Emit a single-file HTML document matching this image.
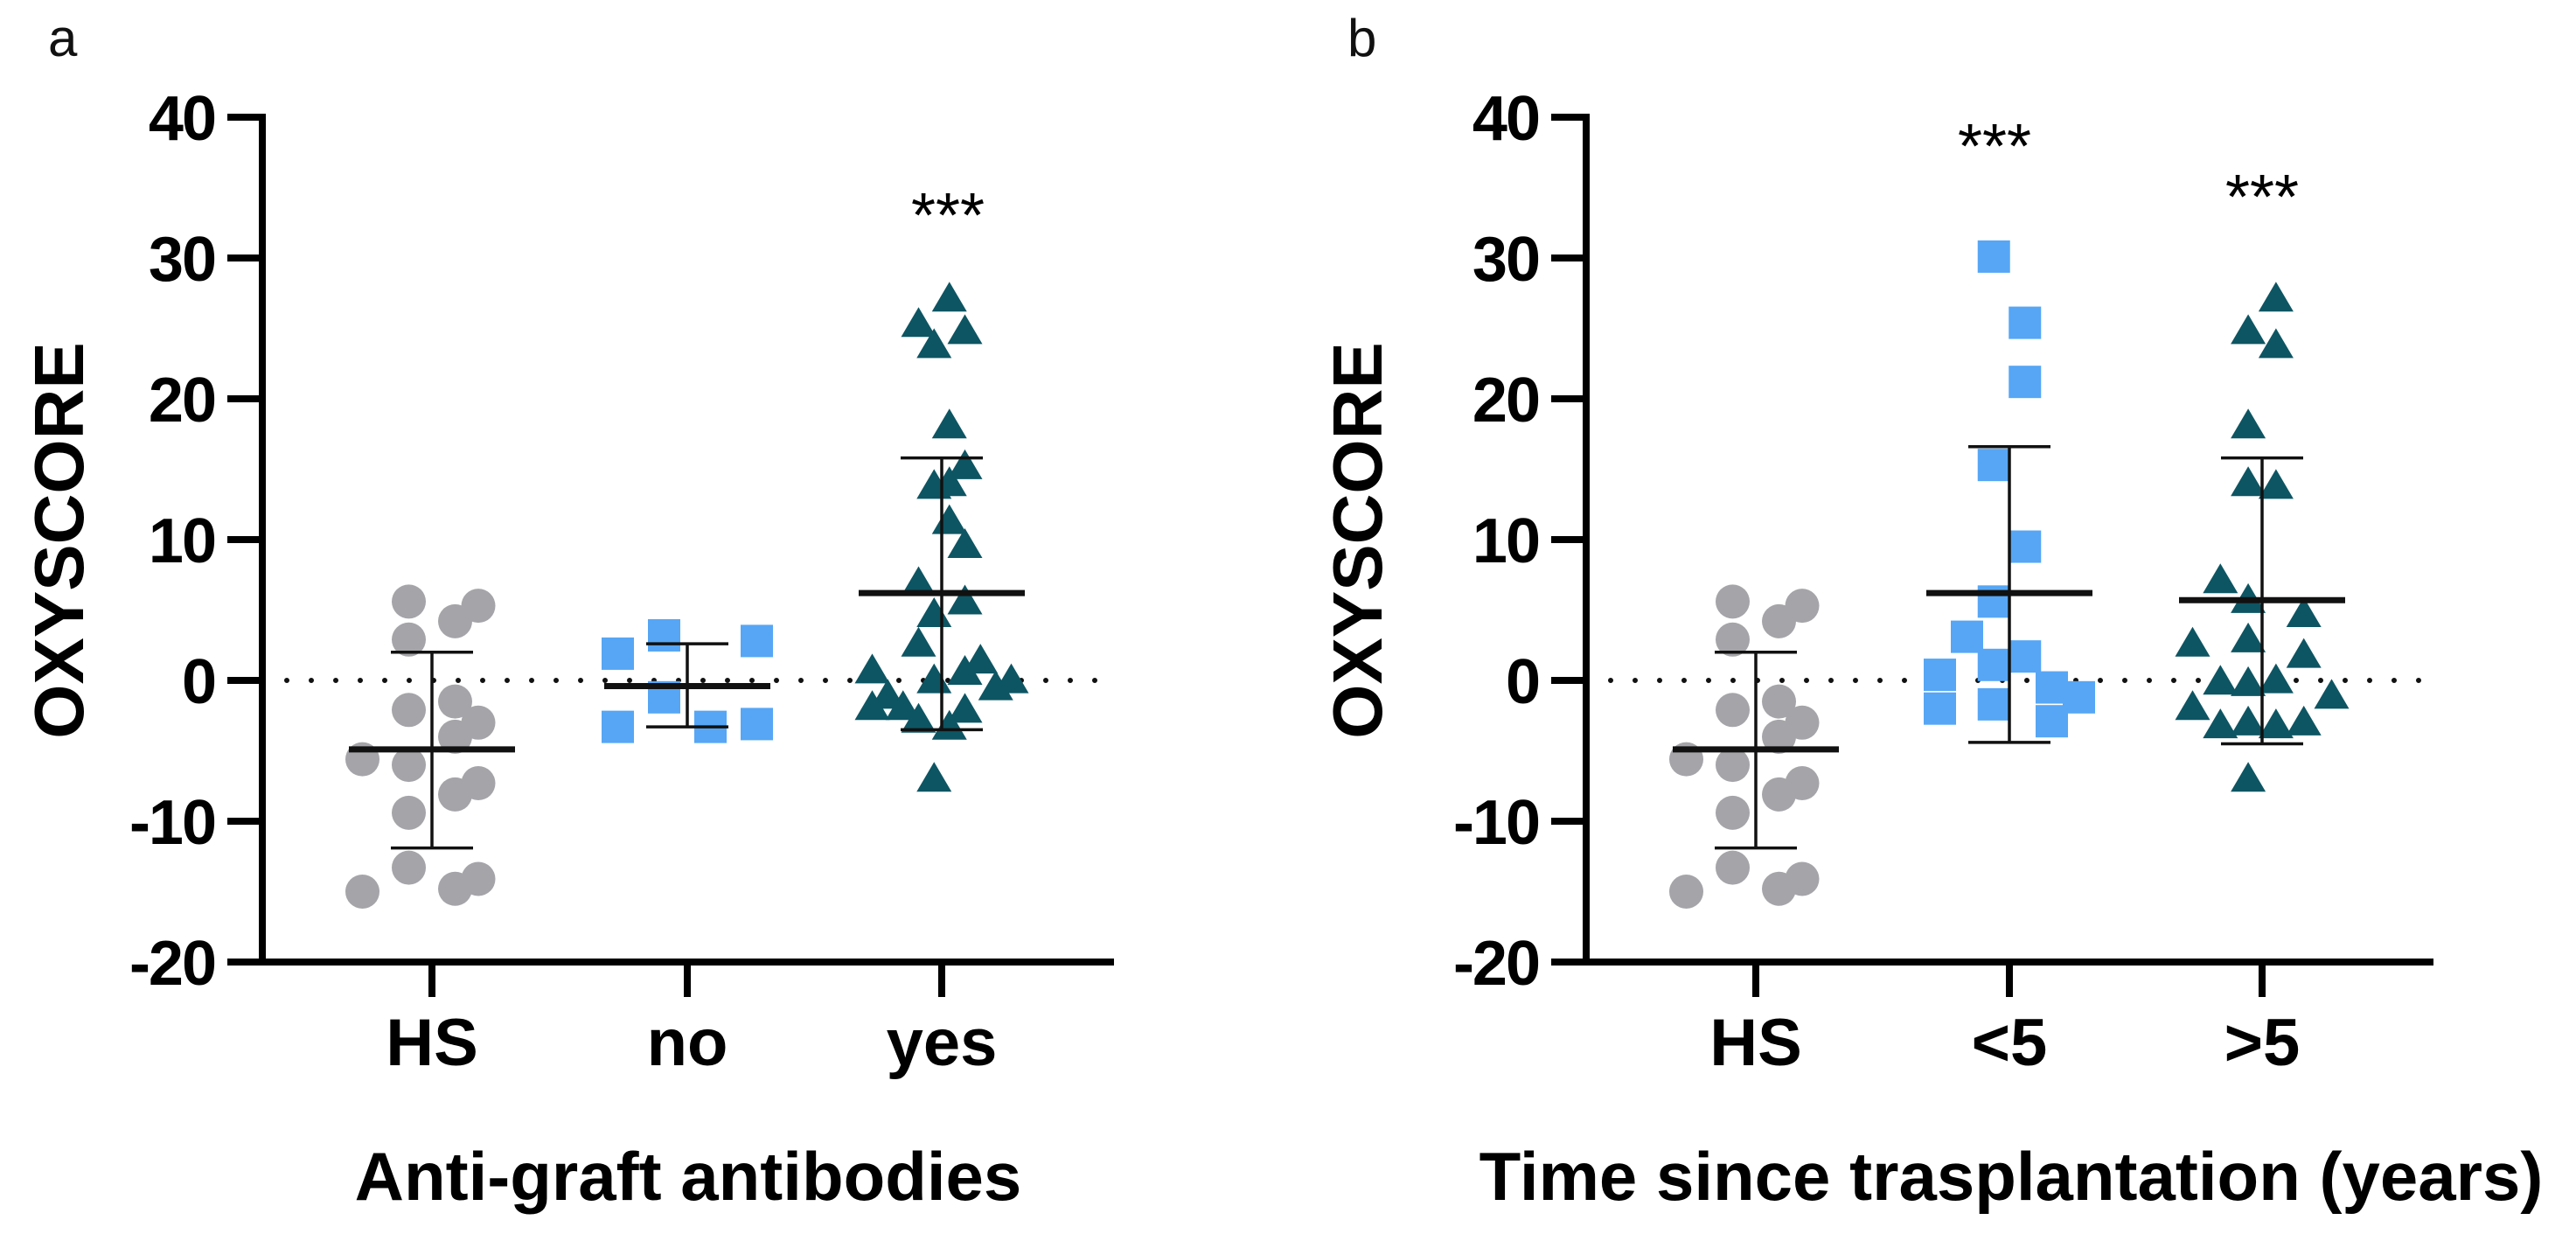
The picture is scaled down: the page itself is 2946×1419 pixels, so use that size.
<!DOCTYPE html>
<html><head><meta charset="utf-8"><style>
html,body{margin:0;padding:0;background:#fff;}
svg{display:block;font-family:"Liberation Sans",Arial,sans-serif;}
</style></head><body>
<svg id="fig" width="2946" height="1419" viewBox="0 0 2946 1419" xmlns="http://www.w3.org/2000/svg"></svg>
<script>
// ---- data ----
const categoriesA = ["HS","no","yes"];
const categoriesB = ["HS","<5",">5"];
const yTicks = [40,30,20,10,0,-10,-20];
const hsValues = [5.6,5.3,4.2,2.9,-1.5,-2.1,-3.0,-4.0,-5.6,-6.0,-7.3,-8.1,-9.4,-13.3,-14.1,-14.8,-15.0];
const hsJitter = [-1,2,1,-1,1,-1,2,1,-3,-1,2,1,-1,-1,2,1,-3];
const noValues = [1.9,3.2,2.8,-1.2,-3.3,-3.3,-3.1];
const noJitter = [-3,-1,3,-1,-3,1,3];
const yesValues = [27,25.2,24.7,23.7,18,15.1,13.7,13.9,11.2,9.5,6.8,5.5,4.6,2.5,0.6,1.3,-0.1,-0.1,0.5,-0.6,-1.2,-2.0,-2.0,-2.2,-2.9,-3.4,-7.1];
const yesJitter = [0.33,-1,1,-0.33,0.33,1,-0.33,0.33,0.33,1,-1,1,-0.33,-1,-3,1.67,-0.33,3,1,2.33,-2.33,-1.67,-3,1,-1,0.33,-0.33];
const lt5Values = [30.1,25.4,21.2,15.3,9.5,5.6,3.1,1.7,0.4,1.1,-0.5,-1.2,-2.0,-1.7,-2.9];
const lt5Jitter = [-0.67,0.67,0.67,-0.67,0.67,-0.67,-1.83,0.67,-3,-0.67,1.83,3,-3,-0.67,1.83];
const gt5Values = [27,24.7,23.7,18,13.9,13.7,7.0,5.6,4.6,2.5,2.8,1.7,-0.2,-0.3,-0.1,-1.2,-2.0,-3.3,-3.1,-3.3,-3.1,-7.1];
const gt5Jitter = [0.6,-0.6,0.6,-0.6,-0.6,0.6,-1.8,-0.6,1.8,-3,-0.6,1.8,-1.8,-0.6,0.6,3,-3,-1.8,-0.6,0.6,1.8,-0.6];
// summary: [mean, upper, lower]
const hsSummary = [-4.9,2.0,-11.9];
const noSummary = [-0.4,2.6,-3.3];
const yesSummary = [6.2,15.8,-3.5];
const lt5Summary = [6.2,16.6,-4.4];
const gt5Summary = [5.7,15.8,-4.5];

const NS="http://www.w3.org/2000/svg";
const svg=document.getElementById('fig');
function el(tag,attrs,parent){const e=document.createElementNS(NS,tag);for(const k in attrs)e.setAttribute(k,attrs[k]);(parent||svg).appendChild(e);return e;}
const GRAY="#a5a4a8",BLUE="#56a6f5",TEAL="#0d5563";
const Y0=134,Y1=1100;
function yScale(v){return Y0+(40-v)*(Y1-Y0)/60;}

function drawMarker(g,shape,cx,cy,color){
  let m;
  if(shape==='circle'){m=el('circle',{cx:cx,cy:cy,r:19.5,fill:color},g);}
  else if(shape==='square'){m=el('rect',{x:cx-18.5,y:cy-18.5,width:37,height:37,fill:color},g);}
  else {m=el('polygon',{points:`${cx},${cy-21} ${cx+20},${cy+13} ${cx-20},${cy+13}`,fill:color},g);}
  
  
}

function panel(p){
  const g=el('g',{});
  
  
  const ax=p.axisX, axEnd=p.axisEnd;
  const xs=i=>p.catX[i];
  const jit=26.5;
  const L=el('text',{x:p.letterX,y:64,'font-size':60,fill:'#111'},g);L.textContent=p.letter;
  
  const dl=el('line',{x1:ax+28,x2:axEnd,y1:yScale(0),y2:yScale(0),stroke:'#111','stroke-width':6,'stroke-dasharray':'0 28','stroke-linecap':'round'},g);
  
  p.series.forEach((s,si)=>{
    const sg=el('g',{},g);
    
    
    const cx=xs(si);
    s.vals.forEach((v,i)=>drawMarker(sg,s.shape,cx+s.jit[i]*jit,yScale(v),s.color));
    const [m,u,lo]=s.sum;
    el('line',{x1:cx,x2:cx,y1:yScale(u),y2:yScale(lo),stroke:'#111','stroke-width':3.5},sg);
    el('line',{x1:cx-47,x2:cx+47,y1:yScale(u),y2:yScale(u),stroke:'#111','stroke-width':3.5},sg);
    el('line',{x1:cx-47,x2:cx+47,y1:yScale(lo),y2:yScale(lo),stroke:'#111','stroke-width':3.5},sg);
    const ml=el('line',{x1:cx-95,x2:cx+95,y1:yScale(m),y2:yScale(m),stroke:'#111','stroke-width':7},sg);
    
  });
  const ya=el('line',{x1:ax,x2:ax,y1:Y0-4,y2:Y1+4,stroke:'#000','stroke-width':8},g);
  
  const xa=el('line',{x1:ax-40,x2:axEnd,y1:Y1,y2:Y1,stroke:'#000','stroke-width':8},g);
  
  yTicks.forEach(t=>{
    el('line',{x1:ax-40,x2:ax,y1:yScale(t),y2:yScale(t),stroke:'#000','stroke-width':8},g);
    const tx=el('text',{x:ax-54,y:yScale(t)+26,'font-size':72,'font-weight':'bold','text-anchor':'end',fill:'#000','letter-spacing':'-2'},g);
    tx.textContent=t;
    
  });
  p.cats.forEach((c,i)=>{
    el('line',{x1:xs(i),x2:xs(i),y1:Y1,y2:Y1+40,stroke:'#000','stroke-width':8},g);
    const tx=el('text',{x:xs(i),y:1218,'font-size':76,'font-weight':'bold','text-anchor':'middle',fill:'#000'},g);
    tx.textContent=c;
    
  });
  p.stars.forEach(s=>{
    const t=el('text',{x:s[0],y:s[1]+36,'font-size':72,'text-anchor':'middle',fill:'#000'},g);
    t.textContent='***';
    
  });
  const yt=el('text',{x:0,y:0,'font-size':80,'font-weight':'bold','text-anchor':'middle',fill:'#000',transform:`translate(${p.ytX},618) rotate(-90)`},g);
  yt.textContent='OXYSCORE';
  
  const xt=el('text',{x:p.xtX,y:1372,'font-size':78,'font-weight':'bold','text-anchor':'middle',fill:'#000'},g);
  xt.textContent=p.xTitle;
  
}

panel({name:'panel-a',letter:'a',letterX:55,axisX:300,axisEnd:1274,catX:[494,786,1077],cats:categoriesA,
  series:[{vals:hsValues,jit:hsJitter,shape:'circle',color:GRAY,sum:hsSummary},
          {vals:noValues,jit:noJitter,shape:'square',color:BLUE,sum:noSummary},
          {vals:yesValues,jit:yesJitter,shape:'triangle',color:TEAL,sum:yesSummary}],
  stars:[[1084,235]],ytX:95,xtX:787,xTitle:'Anti-graft antibodies'});
panel({name:'panel-b',letter:'b',letterX:1541,axisX:1814,axisEnd:2783,catX:[2008,2298,2587],cats:categoriesB,
  series:[{vals:hsValues,jit:hsJitter,shape:'circle',color:GRAY,sum:hsSummary},
          {vals:lt5Values,jit:lt5Jitter,shape:'square',color:BLUE,sum:lt5Summary},
          {vals:gt5Values,jit:gt5Jitter,shape:'triangle',color:TEAL,sum:gt5Summary}],
  stars:[[2281,156],[2587,214]],ytX:1580,xtX:2300,xTitle:'Time since trasplantation (years)'});
</script>
</body></html>
